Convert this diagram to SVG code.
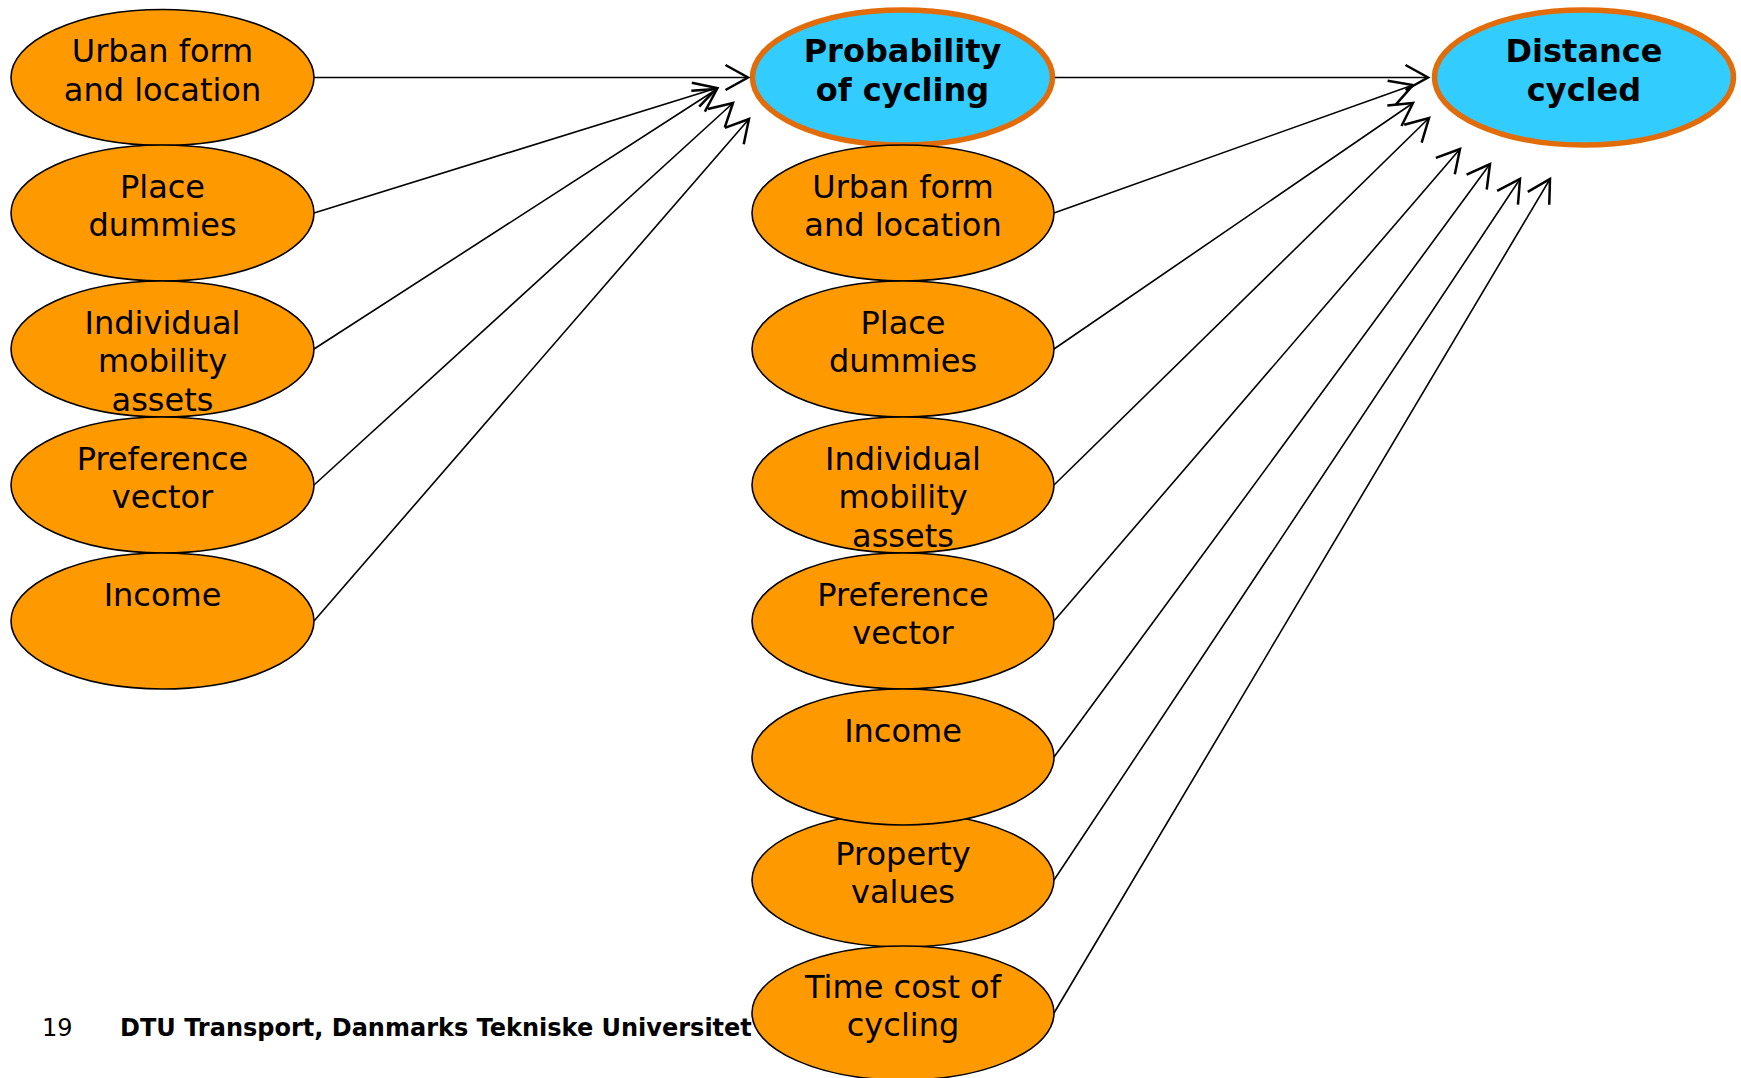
<svg xmlns="http://www.w3.org/2000/svg" width="1741" height="1078" viewBox="0 0 1741 1078">
<style>
.in{fill:#FF9900;stroke:#000;stroke-width:1.6}
.out{fill:#33CCFF;stroke:#E36C0A;stroke-width:5.5}
.t{font-family:"DejaVu Sans",Verdana,sans-serif;font-size:32px;fill:#000;text-anchor:middle}
.b{font-weight:bold}
.c line{stroke:#000;stroke-width:1.6;fill:none;marker-end:url(#arr)}
.f{font-family:"DejaVu Sans",Verdana,sans-serif;font-size:24px;fill:#000}
</style>
<defs>
<marker id="arr" markerUnits="userSpaceOnUse" markerWidth="30" markerHeight="30" refX="0" refY="0" viewBox="-22 -12 24 24" orient="auto" overflow="visible">
<path d="M-18,-10 L0,0 L-18,10" fill="none" stroke="#000" stroke-width="2"/>
</marker>
</defs>
<rect width="1741" height="1078" fill="#fff"/>
<g id="footer">
<text class="f" x="42" y="1036">19</text>
<text class="f b" x="120" y="1036">DTU Transport, Danmarks Tekniske Universitet</text>
</g>
<g id="l-urban"><ellipse class="in" cx="162.5" cy="77.5" rx="151.5" ry="68"/><text class="t" x="162.5" y="77.5"><tspan x="162.5" dy="-15.5">Urban form</tspan><tspan x="162.5" dy="38.5">and location</tspan></text></g>
<g id="l-place"><ellipse class="in" cx="162.5" cy="213" rx="151.5" ry="68"/><text class="t" x="162.5" y="213"><tspan x="162.5" dy="-15.5">Place</tspan><tspan x="162.5" dy="38.5">dummies</tspan></text></g>
<g id="l-indiv"><ellipse class="in" cx="162.5" cy="349" rx="151.5" ry="68"/><text class="t" x="162.5" y="349"><tspan x="162.5" dy="-15.5">Individual</tspan><tspan x="162.5" dy="38.5">mobility</tspan><tspan x="162.5" dy="38.5">assets</tspan></text></g>
<g id="l-pref"><ellipse class="in" cx="162.5" cy="485" rx="151.5" ry="68"/><text class="t" x="162.5" y="485"><tspan x="162.5" dy="-15.5">Preference</tspan><tspan x="162.5" dy="38.5">vector</tspan></text></g>
<g id="l-income"><ellipse class="in" cx="162.5" cy="621" rx="151.5" ry="68"/><text class="t" x="162.5" y="605.5">Income</text></g>
<g id="prob"><ellipse class="out" cx="902.5" cy="77.5" rx="150" ry="67.5"/><text class="t b" x="902.5" y="77.5"><tspan x="902.5" dy="-15.5">Probability</tspan><tspan x="902.5" dy="38.5">of cycling</tspan></text></g>
<g id="dist"><ellipse class="out" cx="1584" cy="77.5" rx="149.5" ry="67.5"/><text class="t b" x="1584" y="77.5"><tspan x="1584" dy="-15.5">Distance</tspan><tspan x="1584" dy="38.5">cycled</tspan></text></g>
<g id="m-urban"><ellipse class="in" cx="903" cy="213" rx="151" ry="68"/><text class="t" x="903" y="213"><tspan x="903" dy="-15.5">Urban form</tspan><tspan x="903" dy="38.5">and location</tspan></text></g>
<g id="m-place"><ellipse class="in" cx="903" cy="349" rx="151" ry="68"/><text class="t" x="903" y="349"><tspan x="903" dy="-15.5">Place</tspan><tspan x="903" dy="38.5">dummies</tspan></text></g>
<g id="m-indiv"><ellipse class="in" cx="903" cy="485" rx="151" ry="68"/><text class="t" x="903" y="485"><tspan x="903" dy="-15.5">Individual</tspan><tspan x="903" dy="38.5">mobility</tspan><tspan x="903" dy="38.5">assets</tspan></text></g>
<g id="m-pref"><ellipse class="in" cx="903" cy="621" rx="151" ry="68"/><text class="t" x="903" y="621"><tspan x="903" dy="-15.5">Preference</tspan><tspan x="903" dy="38.5">vector</tspan></text></g>
<g id="m-property"><ellipse class="in" cx="903" cy="880" rx="151" ry="67"/><text class="t" x="903" y="880"><tspan x="903" dy="-15.5">Property</tspan><tspan x="903" dy="38.5">values</tspan></text></g>
<g id="m-income"><ellipse class="in" cx="903" cy="757" rx="151" ry="68"/><text class="t" x="903" y="741.5">Income</text></g>
<g id="m-time"><ellipse class="in" cx="903" cy="1013" rx="151" ry="67"/><text class="t" x="903" y="1013"><tspan x="903" dy="-15.5">Time cost of</tspan><tspan x="903" dy="38.5">cycling</tspan></text></g>
<g id="connectors" class="c">
<line x1="314" y1="77.5" x2="748" y2="77.5"/>
<line x1="314" y1="213" x2="717" y2="88"/>
<line x1="314" y1="349" x2="717" y2="89"/>
<line x1="314" y1="485" x2="733" y2="103"/>
<line x1="314" y1="621" x2="749" y2="119"/>
<line x1="1055" y1="77.5" x2="1428" y2="77.5"/>
<line x1="1054" y1="213" x2="1413" y2="85"/>
<line x1="1054" y1="349" x2="1413" y2="103"/>
<line x1="1054" y1="485" x2="1429" y2="118"/>
<line x1="1054" y1="621" x2="1460" y2="149"/>
<line x1="1054" y1="757" x2="1490" y2="164"/>
<line x1="1054" y1="880" x2="1520" y2="179"/>
<line x1="1054" y1="1013" x2="1550" y2="179"/>
</g>
</svg>
